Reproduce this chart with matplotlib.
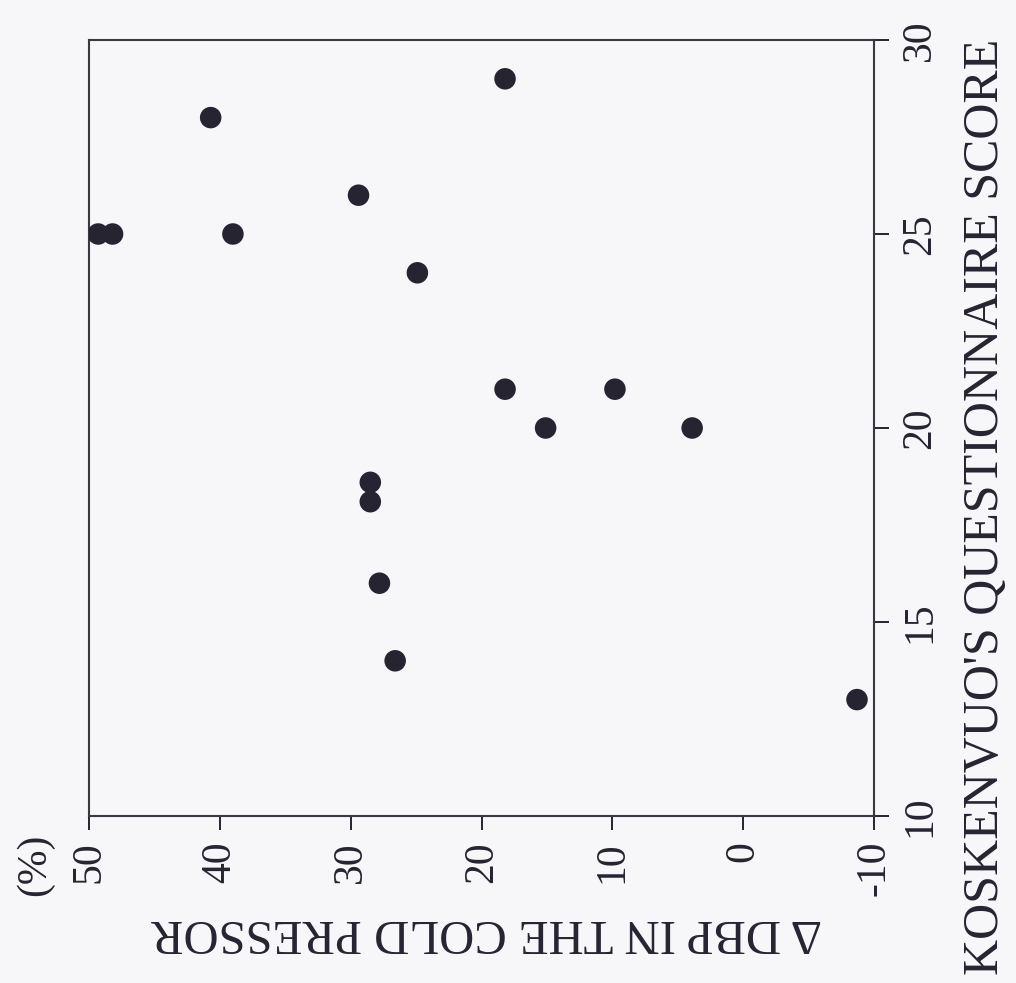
import matplotlib
matplotlib.use("Agg")
import matplotlib.pyplot as plt

# Koskenvuo's questionnaire score vs change of DBP (%) in the cold pressor test
k_score = [29, 28, 26, 25, 25, 25, 24, 21, 21, 20, 20, 18.6, 18.1, 16, 14, 13]
dbp_change = [18.2, 40.7, 29.4, 49.3, 48.2, 39.0, 24.9, 18.2, 9.8, 15.1, 3.9,
              28.5, 28.5, 27.8, 26.6, -8.7]

dbp_ticks = [50, 40, 30, 20, 10, 0, -10]
dbp_labels = ['50', '40', '30', '20', '10', '0', '-10']
score_ticks = [10, 15, 20, 25, 30]
score_labels = ['10', '15', '20', '25', '30']

fnt = 'Liberation Serif'
ink = '#262430'
paper = '#f7f6f8'

fig = plt.figure(figsize=(10.16, 9.83), dpi=100, facecolor=paper)
# the whole page is scanned turned by 90 degrees, so the score axis is on the right
ax = fig.add_axes([89 / 1016, 1 - 816 / 983, (874 - 89) / 1016, (816 - 40) / 983])
ax.set_facecolor(paper)

ax.scatter(dbp_change, k_score, s=240, color=ink, edgecolors='none', zorder=3)

ax.set_xlim(50, -10)
ax.set_ylim(10, 30)
ax.yaxis.tick_right()

ax.set_xticks(dbp_ticks)
ax.set_xticklabels(dbp_labels, rotation=90, fontsize=30, family=fnt, color=ink)
ax.set_yticks(score_ticks)
ax.set_yticklabels(score_labels, rotation=90, fontsize=30, family=fnt, color=ink,
                   va='center')
ax.tick_params(axis='x', direction='out', length=10, width=1.4, color=ink, pad=8)
ax.tick_params(axis='y', direction='out', length=11, width=1.4, color=ink, pad=8)
for sp in ax.spines.values():
    sp.set_linewidth(1.5)
    sp.set_color('#3a3840')

fig.text(986 / 1016, 1 - 507 / 983, "KOSKENVUO'S QUESTIONNAIRE SCORE", rotation=90,
         ha='center', va='center', fontsize=36, family=fnt, color=ink)
fig.text(487 / 1016, 1 - 932 / 983, "Δ DBP IN THE COLD PRESSOR", rotation=180,
         ha='center', va='center', fontsize=35, family=fnt, color=ink)
fig.text(35 / 1016, 1 - 865 / 983, "(%)", rotation=90,
         ha='center', va='center', fontsize=30, family=fnt, color=ink)

fig.savefig('out.png', dpi=100, facecolor=fig.get_facecolor())
